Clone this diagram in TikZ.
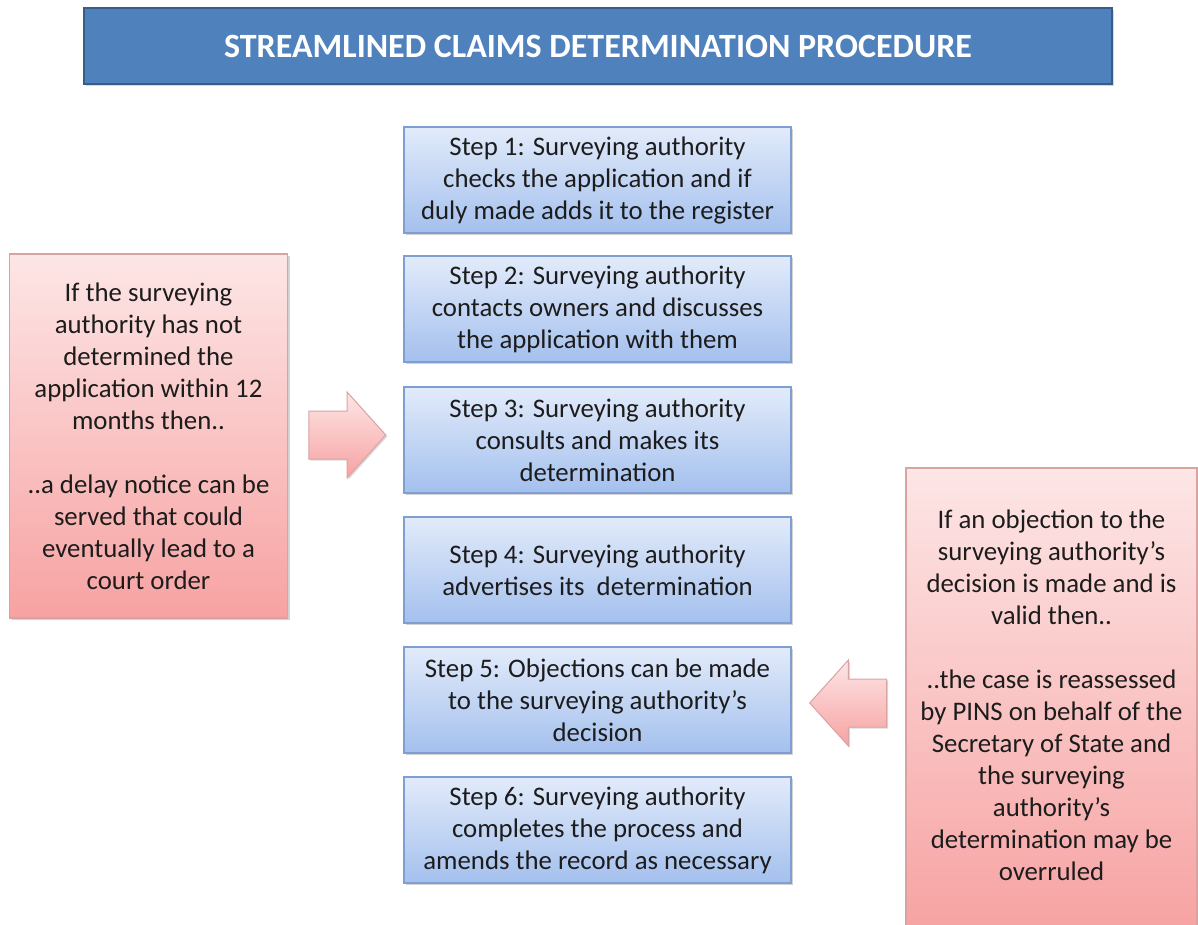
\documentclass[tikz,border=0pt]{standalone}
\usepackage{fontspec}
\setmainfont{Carlito}
\usetikzlibrary{shapes.arrows, shadows}

\definecolor{titleblue}{HTML}{4F81BD}
\definecolor{titleline}{HTML}{385D8A}
\definecolor{steptop}{HTML}{E2EBFA}
\definecolor{stepbottom}{HTML}{A4C0EE}
\definecolor{stepline}{HTML}{7F9FD3}
\definecolor{notetop}{HTML}{FDE6E6}
\definecolor{notebottom}{HTML}{F7A2A2}
\definecolor{noteline}{HTML}{D9A3A2}
\definecolor{inktext}{HTML}{1C1C1C}

\begin{document}
\begin{tikzpicture}[x=1pt, y=-1pt]

\tikzset{stepbox/.style = {rectangle, draw=stepline, line width=1.2pt, top color=steptop, bottom color=stepbottom,
    minimum width=387pt, minimum height=106pt, align=center, text=inktext, inner sep=0pt,
    font=\fontsize{26.8}{32}\selectfont, drop shadow={shadow xshift=2pt, shadow yshift=-2pt, opacity=0.35}}}
\tikzset{notebox/.style = {rectangle, draw=noteline, line width=1.2pt, top color=notetop, bottom color=notebottom,
    align=center, text=inktext, inner sep=0pt, font=\fontsize{26.8}{32}\selectfont,
    drop shadow={shadow xshift=2pt, shadow yshift=-2pt, opacity=0.35}}}
\tikzset{blockarrow/.style = {single arrow, draw=noteline, line width=1pt, top color=notetop, bottom color=notebottom,
    minimum height=77pt, inner xsep=0pt, inner ysep=23.5pt, single arrow head extend=19pt,
    single arrow tip angle=96, drop shadow={shadow xshift=1.5pt, shadow yshift=-1.5pt, opacity=0.3}}}

\useasboundingbox (0,0) rectangle (1198,924);

%title
\node[rectangle, draw=titleline, line width=2.5pt, fill=titleblue, minimum width=1028pt, minimum height=76pt,
    text=white, font=\fontsize{34}{40}\selectfont\bfseries,
    drop shadow={shadow xshift=2pt, shadow yshift=-2pt, opacity=0.3}] (title) at (598,46)
    {STREAMLINED CLAIMS DETERMINATION PROCEDURE};

%steps
\node[stepbox] (s1) at (597.5,180) {Step 1: Surveying authority\\checks the application and if\\duly made adds it to the register};
\node[stepbox] (s2) at (597.5,309) {Step 2: Surveying authority\\contacts owners and discusses\\the application with them};
\node[stepbox] (s3) at (597.5,440) {Step 3: Surveying authority\\consults and makes its\\determination};
\node[stepbox] (s4) at (597.5,570) {Step 4: Surveying authority\\advertises its~~determination};
\node[stepbox] (s5) at (597.5,700) {Step 5: Objections can be made\\to the surveying authority’s\\decision};
\node[stepbox] (s6) at (597.5,830) {Step 6: Surveying authority\\completes the process and\\amends the record as necessary};

%notes
\node[notebox, minimum width=278pt, minimum height=364pt] (delay) at (148.5,436)
    {If the surveying\\authority has not\\determined the\\application within 12\\months then..\\[32pt]..a delay notice~can be\\served that could\\eventually lead to a\\court order};
\node[notebox, minimum width=291pt, minimum height=466pt] (objection) at (1051.5,701)
    {If an objection to the\\surveying authority’s\\decision is made and is\\valid then..\\[32pt]..the case is reassessed\\by PINS on behalf of the\\Secretary of State and\\the surveying\\authority’s\\determination may be\\overruled\\[-20pt]};

%arrows
\node[blockarrow] (toS3) at (336.5,435) {};
\node[blockarrow, shape border rotate=180] (toS5) at (859,703) {};

\end{tikzpicture}
\end{document}
